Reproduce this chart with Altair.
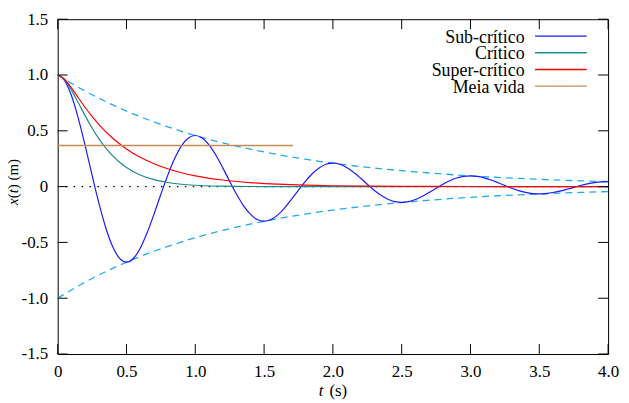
import altair as alt
import pandas as pd

# ---------------- data ----------------
sub_t = [0.00, 0.05, 0.10, 0.15, 0.20, 0.25, 0.30, 0.35, 0.40, 0.45, 0.50,
         0.55, 0.60, 0.65, 0.70, 0.75, 0.80, 0.85, 0.90, 0.95, 1.00,
         1.05, 1.10, 1.15, 1.20, 1.25, 1.30, 1.35, 1.40, 1.45, 1.50,
         1.55, 1.60, 1.65, 1.70, 1.75, 1.80, 1.85, 1.90, 1.95, 2.00,
         2.05, 2.10, 2.15, 2.20, 2.25, 2.30, 2.35, 2.40, 2.45, 2.50,
         2.55, 2.60, 2.65, 2.70, 2.75, 2.80, 2.85, 2.90, 2.95, 3.00,
         3.05, 3.10, 3.15, 3.20, 3.25, 3.30, 3.35, 3.40, 3.45, 3.50,
         3.55, 3.60, 3.65, 3.70, 3.75, 3.80, 3.85, 3.90, 3.95, 4.00]
sub_x = [1.000, 0.952, 0.816, 0.612, 0.365, 0.102, -0.151, -0.371, -0.539, -0.643, -0.677,
         -0.644, -0.552, -0.414, -0.247, -0.069, 0.102, 0.251, 0.365, 0.435, 0.458,
         0.436, 0.374, 0.281, 0.168, 0.047, -0.069, -0.170, -0.247, -0.295, -0.310,
         -0.295, -0.253, -0.190, -0.113, -0.032, 0.047, 0.115, 0.167, 0.200, 0.210,
         0.200, 0.171, 0.129, 0.077, 0.021, -0.032, -0.078, -0.113, -0.135, -0.142,
         -0.135, -0.116, -0.087, -0.052, -0.015, 0.022, 0.053, 0.077, 0.091, 0.096,
         0.092, 0.079, 0.059, 0.035, 0.010, -0.015, -0.036, -0.052, -0.062, -0.065,
         -0.062, -0.053, -0.040, -0.024, -0.007, 0.010, 0.024, 0.035, 0.042, 0.044]

env_t = [0.0, 0.2, 0.4, 0.6, 0.8, 1.0, 1.2, 1.4, 1.6, 1.8, 2.0,
         2.2, 2.4, 2.6, 2.8, 3.0, 3.2, 3.4, 3.6, 3.8, 4.0]
env_up = [1.000, 0.856, 0.732, 0.626, 0.536, 0.458, 0.392, 0.336, 0.287, 0.246, 0.210,
          0.180, 0.154, 0.132, 0.113, 0.096, 0.082, 0.071, 0.060, 0.052, 0.044]
env_lo = [-1.000, -0.856, -0.732, -0.626, -0.536, -0.458, -0.392, -0.336, -0.287, -0.246, -0.210,
          -0.180, -0.154, -0.132, -0.113, -0.096, -0.082, -0.071, -0.060, -0.052, -0.044]

crit_t = [0.0, 0.05, 0.1, 0.15, 0.2, 0.25, 0.3, 0.35, 0.4, 0.45, 0.5, 0.6, 0.7,
          0.8, 0.9, 1.0, 1.2, 1.4, 1.6, 2.0, 2.5, 3.0, 3.5, 4.0]
crit_x = [1.000, 0.959, 0.865, 0.751, 0.634, 0.525, 0.428, 0.345, 0.275, 0.218, 0.171, 0.104, 0.062,
          0.037, 0.021, 0.012, 0.004, 0.001, 0.0004, 0.0, 0.0, 0.0, 0.0, 0.0]

sup_t = [0.0, 0.05, 0.1, 0.15, 0.2, 0.25, 0.3, 0.4, 0.5, 0.6, 0.7, 0.8, 0.9,
         1.0, 1.2, 1.4, 1.6, 1.8, 2.0, 2.5, 3.0, 3.5, 4.0]
sup_x = [1.000, 0.962, 0.884, 0.796, 0.709, 0.629, 0.556, 0.434, 0.338, 0.263, 0.205, 0.160, 0.124,
         0.097, 0.059, 0.036, 0.022, 0.013, 0.008, 0.002, 0.001, 0.0002, 0.0]

half_t = [0.0, 1.71]
half_x = [0.368, 0.368]

zero_t = [0.0, 4.0]
zero_x = [0.0, 0.0]

x_ticks = [0.0, 0.5, 1.0, 1.5, 2.0, 2.5, 3.0, 3.5, 4.0]
y_ticks = [-1.5, -1.0, -0.5, 0.0, 0.5, 1.0, 1.5]

legend_labels = ["Sub-crítico", "Crítico", "Super-crítico", "Meia vida"]
legend_colors = ["#1a1aff", "#1a8c8c", "#ff0000", "#c88a55"]

# ---------------- chart ----------------
W, H = 554, 337
FONT = "Times"

xs = alt.Scale(domain=[0, 4], nice=False, zero=False)
ys = alt.Scale(domain=[-1.5, 1.5], nice=False, zero=False)

xaxis = alt.Axis(values=x_ticks,
                 labelExpr="datum.value == 0 ? '0' : format(datum.value, '.1f')",
                 title=None, grid=False, domain=False, ticks=False, tickSize=0,
                 labelFont=FONT, labelFontSize=17, labelColor="black",
                 labelPadding=23, labelBaseline="alphabetic",
                 labelFlush=False, labelOverlap=False)
yaxis = alt.Axis(values=y_ticks,
                 labelExpr="datum.value == 0 ? '0' : (datum.value < 0 ? '-' : '') + format(abs(datum.value), '.1f')",
                 title=None, grid=False, domain=False, ticks=False, tickSize=0,
                 labelFont=FONT, labelFontSize=17, labelColor="black",
                 labelPadding=10, labelFlush=False, labelOverlap=False)


def curve(t, v, color, width=1.2, dash=None, interp="monotone"):
    df = pd.DataFrame({"t": t, "v": v})
    kw = dict(color=color, strokeWidth=width, interpolate=interp, clip=True)
    if dash:
        kw["strokeDash"] = dash
    return alt.Chart(df).mark_line(**kw).encode(
        x=alt.X("t:Q", scale=xs, axis=xaxis),
        y=alt.Y("v:Q", scale=ys, axis=yaxis),
    )


layers = []
layers.append(curve(env_t, env_up, "#22aaee", 1.3, [7, 5]))
layers.append(curve(env_t, env_lo, "#22aaee", 1.3, [7, 5]))
layers.append(curve(zero_t, zero_x, "black", 1.3, [1.5, 6.5], "linear"))
layers.append(curve(sub_t, sub_x, legend_colors[0], 1.2))
layers.append(curve(crit_t, crit_x, legend_colors[1], 1.2))
layers.append(curve(sup_t, sup_x, legend_colors[2], 1.2))
layers.append(curve(half_t, half_x, legend_colors[3], 1.4, None, "linear"))

# inward ticks on all four sides
xt = pd.DataFrame({"t": x_ticks})
yt = pd.DataFrame({"v": y_ticks})
layers.append(alt.Chart(xt).mark_rule(color="black", strokeWidth=1).encode(
    x=alt.X("t:Q", scale=xs, axis=xaxis), y=alt.value(H), y2=alt.value(H - 10)))
layers.append(alt.Chart(xt).mark_rule(color="black", strokeWidth=1).encode(
    x=alt.X("t:Q", scale=xs, axis=xaxis), y=alt.value(0), y2=alt.value(10)))
layers.append(alt.Chart(yt).mark_rule(color="black", strokeWidth=1).encode(
    y=alt.Y("v:Q", scale=ys, axis=yaxis), x=alt.value(0), x2=alt.value(10)))
layers.append(alt.Chart(yt).mark_rule(color="black", strokeWidth=1).encode(
    y=alt.Y("v:Q", scale=ys, axis=yaxis), x=alt.value(W), x2=alt.value(W - 10)))

# legend (top right, text right-aligned, sample line to the right)
for i, (lab, col) in enumerate(zip(legend_labels, legend_colors)):
    one = pd.DataFrame({"s": [lab]})
    layers.append(alt.Chart(one).mark_text(
        font=FONT, fontSize=18, align="right", baseline="alphabetic", color="black"
    ).encode(text="s:N", x=alt.value(470), y=alt.value(23.7 + 16.8 * i)))
    layers.append(alt.Chart(one).mark_rule(color=col, strokeWidth=1.4).encode(
        x=alt.value(480.5), x2=alt.value(532.5), y=alt.value(17 + 16.8 * i)))


def txt(s, x, y, size, italic=False, angle=0):
    kw = dict(font=FONT, fontSize=size, align="left", baseline="alphabetic", color="black")
    if italic:
        kw["fontStyle"] = "italic"
    if angle:
        kw["angle"] = angle
    return alt.Chart(pd.DataFrame({"s": [s]})).mark_text(**kw).encode(
        text="s:N", x=alt.value(x), y=alt.value(y))


# x-axis title: t (s)
layers.append(txt("t", 262.7, 379, 17, italic=True))
layers.append(txt("(s)", 273.5, 379, 17))
# y-axis title: x(t) (m), rotated
layers.append(txt("x", -39.5, 187.0, 15, italic=True, angle=270))
layers.append(txt("(", -39.5, 180.3, 15, angle=270))
layers.append(txt("t", -39.5, 175.3, 15, italic=True, angle=270))
layers.append(txt(") (m)", -39.5, 171.1, 15, angle=270))

chart = alt.layer(*layers).properties(
    width=W, height=H,
    padding={"left": 50, "top": 10, "right": 13, "bottom": 46},
    autosize=alt.AutoSizeParams(type="none"),
).configure(font=FONT).configure_text(font=FONT).configure_axis(
    labelFont=FONT, titleFont=FONT
).configure_view(stroke="black", strokeWidth=1)

chart.save("out.html", embed_options={"renderer": "svg", "actions": False})
